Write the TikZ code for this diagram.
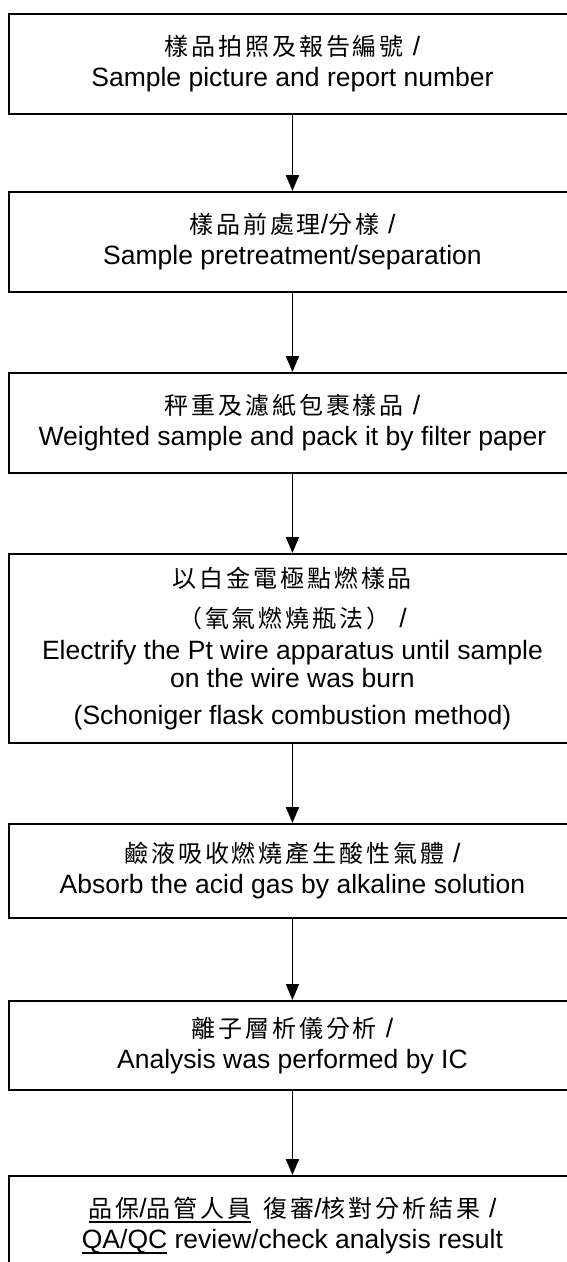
\documentclass[tikz,border=0pt]{standalone}
\usepackage{fontspec}
\setmainfont{Liberation Sans}
\newfontfamily\cjk[LetterSpace=12]{Noto Sans CJK TC}
\usetikzlibrary{arrows.meta}
\newsavebox\ulbox
\newcommand\myul[1]{\sbox\ulbox{#1}\rlap{\raisebox{-5.3pt}{\rule{\wd\ulbox}{1.8pt}}}\usebox\ulbox}
\begin{document}
\begin{tikzpicture}[x=1pt,y=-1pt,
  box/.style={draw, line width=1.9pt, minimum width=567pt, inner sep=0pt,
    align=center, anchor=north west,
    font=\fontsize{26.5}{31}\selectfont},
  arr/.style={line width=1.9pt, -{Triangle[width=13pt,length=16pt]}}]
\useasboundingbox (0,0) rectangle (567,1262);
\clip (0,0) rectangle (567,1262);
\newcommand\zh[1]{{\fontsize{24}{31}\cjk #1}}
\node[box, minimum height=100pt] (b1) at (8,13)
  {\zh{樣品拍照及報告編號}\hspace{9pt}/\\ Sample picture and report number};
\node[box, minimum height=100pt] (b2) at (8,191)
  {\zh{樣品前處理}/\zh{分樣}\hspace{9pt}/\\ Sample pretreatment/separation};
\node[box, minimum height=100pt] (b3) at (8,372)
  {\zh{秤重及濾紙包裹樣品}\hspace{9pt}/\\ Weighted sample and pack it by filter paper};
\node[box, minimum height=189pt] (b4) at (8,553)
  {\zh{以白金電極點燃樣品}\\[9pt]
   \zh{（氧氣燃燒瓶法）}\hspace{9pt}/\\[1pt]
   Electrify the Pt wire apparatus until sample\\[-3.5pt]
   on the wire was burn\\[6pt]
   (Schoniger flask combustion method)};
\node[box, minimum height=94pt] (b5) at (8,823)
  {\zh{鹼液吸收燃燒產生酸性氣體}\hspace{9pt}/\\ Absorb the acid gas by alkaline solution};
\node[box, minimum height=89pt] (b6) at (8,1000)
  {\zh{離子層析儀分析}\hspace{9pt}/\\ Analysis was performed by IC};
\node[box, minimum height=100pt] (b7) at (8,1175)
  {\myul{\zh{品保}/\zh{品管人員}}\hspace{12pt}\zh{復審}/\zh{核對分析結果}\hspace{9pt}/\\
   \myul{QA/QC} review/check analysis result};
\draw[arr] (b1.south) -- (b2.north);
\draw[arr] (b2.south) -- (b3.north);
\draw[arr] (b3.south) -- (b4.north);
\draw[arr] (b4.south) -- (b5.north);
\draw[arr] (b5.south) -- (b6.north);
\draw[arr] (b6.south) -- (b7.north);
\end{tikzpicture}
\end{document}
